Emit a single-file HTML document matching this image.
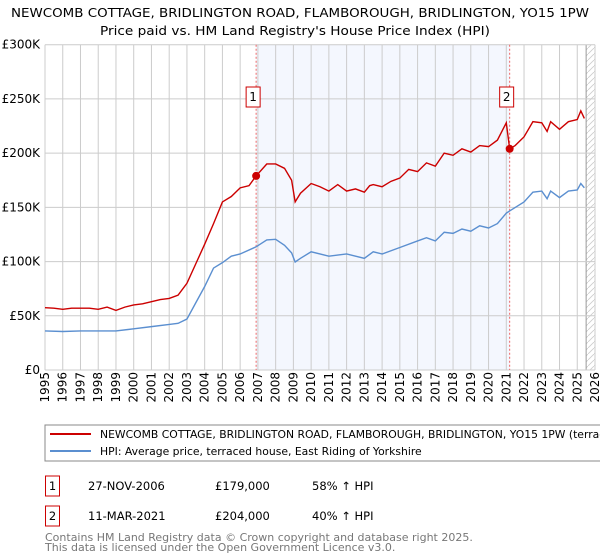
<!DOCTYPE html>
<html><head><meta charset="utf-8"><style>
body{margin:0;background:#fff;}
svg{display:block;font-family:"DejaVu Sans","Liberation Sans",sans-serif;}
</style></head><body>
<svg id="chart" width="600" height="560" xmlns="http://www.w3.org/2000/svg">
<text x="300" y="17" text-anchor="middle" font-size="12" textLength="578" lengthAdjust="spacingAndGlyphs">NEWCOMB COTTAGE, BRIDLINGTON ROAD, FLAMBOROUGH, BRIDLINGTON, YO15 1PW</text>
<text x="295" y="35" text-anchor="middle" font-size="12" textLength="390" lengthAdjust="spacingAndGlyphs">Price paid vs. HM Land Registry's House Price Index (HPI)</text>
<g id="grid"></g>
<g id="marks"></g>
<rect x="45" y="425" width="570" height="36" fill="#fff" stroke="#888"/>
<line x1="50" y1="434" x2="91" y2="434" stroke="#cc0000" stroke-width="2"/>
<text x="100" y="438" font-size="10.8">NEWCOMB COTTAGE, BRIDLINGTON ROAD, FLAMBOROUGH, BRIDLINGTON, YO15 1PW (terraced house)</text>
<line x1="50" y1="451" x2="91" y2="451" stroke="#5b8fd0" stroke-width="2"/>
<text x="100" y="455" font-size="10.8">HPI: Average price, terraced house, East Riding of Yorkshire</text>
<g font-size="11.5">
<rect x="45.5" y="476" width="14" height="20" fill="none" stroke="#cc0000"/>
<text x="52.5" y="490" text-anchor="middle">1</text>
<text x="88" y="490">27-NOV-2006</text>
<text x="215" y="490">£179,000</text>
<text x="312" y="490">58% ↑ HPI</text>
<rect x="45.5" y="506" width="14" height="20" fill="none" stroke="#cc0000"/>
<text x="52.5" y="520" text-anchor="middle">2</text>
<text x="88" y="520">11-MAR-2021</text>
<text x="215" y="520">£204,000</text>
<text x="312" y="520">40% ↑ HPI</text>
</g>
<text x="45" y="541" font-size="11" fill="#777">Contains HM Land Registry data © Crown copyright and database right 2025.</text>
<text x="45" y="551" font-size="11" fill="#777">This data is licensed under the Open Government Licence v3.0.</text>
</svg>
<script>
const yTicks=[0,50,100,150,200,250,300];
const yTickLabels=["£0","£50K","£100K","£150K","£200K","£250K","£300K"];
const years=[1995,1996,1997,1998,1999,2000,2001,2002,2003,2004,2005,2006,2007,2008,2009,2010,2011,2012,2013,2014,2015,2016,2017,2018,2019,2020,2021,2022,2023,2024,2025,2026];
const saleDates=[2006.9,2021.19];
const salePrices=[179,204];
const priceT=[1995,1995.5,1996,1996.5,1997,1997.5,1998,1998.5,1999,1999.5,2000,2000.5,2001,2001.5,2002,2002.5,2003,2003.5,2004,2004.5,2005,2005.5,2006,2006.5,2006.9,2007.5,2008,2008.5,2008.9,2009.1,2009.4,2010,2010.5,2011,2011.5,2012,2012.5,2013,2013.3,2013.5,2014,2014.5,2015,2015.5,2016,2016.5,2017,2017.5,2018,2018.5,2019,2019.5,2020,2020.5,2021.0,2021.19,2021.5,2022,2022.5,2023,2023.3,2023.5,2024,2024.5,2025,2025.2,2025.4];
const priceV=[57.5,57,56,57,57,57,56,58,55,58,60,61,63,65,66,69,80,98,116,135,155,160,168,170,179,190,190,186,175,155,163,172,169,165,171,165,167,164,170,171,169,174,177,185,183,191,188,200,198,204,201,207,206,212,228,204,207,215,229,228,220,229,222,229,231,239,232];
const hpiT=[1995,1996,1997,1998,1999,2000,2001,2002,2002.5,2003,2003.5,2004,2004.5,2005,2005.5,2006,2006.9,2007.5,2008,2008.5,2008.9,2009.1,2009.4,2010,2011,2012,2013,2013.5,2014,2015,2016,2016.5,2017,2017.5,2018,2018.5,2019,2019.5,2020,2020.5,2021.0,2021.19,2022,2022.5,2023,2023.3,2023.5,2024,2024.5,2025,2025.2,2025.4];
const hpiV=[36,35.5,36,36,36,38,40,42,43,47,62,77,94,99,105,107,113.6,120,120.5,115,108,99.6,103,109,105,107,103,109,107,113,119,122,119,127,126,130,128,133,131,135,144.6,146.7,155,164,165,158,165,159,165,166,172,168];

const NS="http://www.w3.org/2000/svg";
const L=45,R=595,T=44.7,B=370;
const x=t=>L+(t-1995)*(R-L)/31;
const y=v=>B-v*(B-T)/300;
function mk(tag,attrs,parent){const e=document.createElementNS(NS,tag);for(const k in attrs)e.setAttribute(k,attrs[k]);parent.appendChild(e);return e;}
const grid=document.getElementById('grid'),marks=document.getElementById('marks');
const band=mk('rect',{x:x(saleDates[0]),y:T,width:x(saleDates[1])-x(saleDates[0]),height:B-T,fill:'#f4f7fe'},grid);


const defs=mk('defs',{},grid);
const pat=mk('pattern',{id:'hatch',width:6,height:6,patternUnits:'userSpaceOnUse'},defs);
mk('path',{d:'M0,6 L6,0',stroke:'#ccc','stroke-width':0.8},pat);
const hat=mk('rect',{x:x(2025.5),y:T,width:R-x(2025.5),height:B-T,fill:'url(#hatch)'},grid);


mk('line',{x1:x(2025.5),x2:x(2025.5),y1:T,y2:B,stroke:'#999'},grid);
years.forEach(yr=>{
  const gl=mk('line',{x1:x(yr),x2:x(yr),y1:T,y2:B,stroke:'#ccc'},grid);
  
  
  const tx=x(yr)+4,ty=372;
  const lb=mk('text',{x:tx,y:ty,'font-size':12,'text-anchor':'end',transform:`rotate(-90 ${tx} ${ty})`},grid);
  lb.textContent=yr;
  
  
});
yTicks.forEach((v,i)=>{
  const gl=mk('line',{x1:L,x2:R,y1:y(v),y2:y(v),stroke:'#ccc'},grid);
  
  
  const lb=mk('text',{x:40,y:y(v)+4,'font-size':12,'text-anchor':'end'},grid);
  lb.textContent=yTickLabels[i];
  
  
});
saleDates.forEach((d,i)=>{
  const vl=mk('line',{x1:x(d),x2:x(d),y1:T,y2:B,stroke:'#e66','stroke-dasharray':'2,2'},marks);
  
  
  const bx=mk('rect',{x:x(d)-10,y:87,width:14,height:20,fill:'#fff',stroke:'#cc0000'},marks);
  
  
  const bt=mk('text',{x:x(d)-3,y:101,'font-size':12,'text-anchor':'middle'},marks);
  bt.textContent=String(i+1);
  
  
});
const hp=mk('polyline',{points:hpiT.map((t,i)=>x(t)+','+y(hpiV[i])).join(' '),fill:'none',stroke:'#5b8fd0','stroke-width':1.4},marks);


const pp=mk('polyline',{points:priceT.map((t,i)=>x(t)+','+y(priceV[i])).join(' '),fill:'none',stroke:'#cc0000','stroke-width':1.4},marks);


saleDates.forEach((d,i)=>{
  const c=mk('circle',{cx:x(d),cy:y(salePrices[i]),r:4,fill:'#cc0000'},marks);
  
  
});
</script>
</body></html>
